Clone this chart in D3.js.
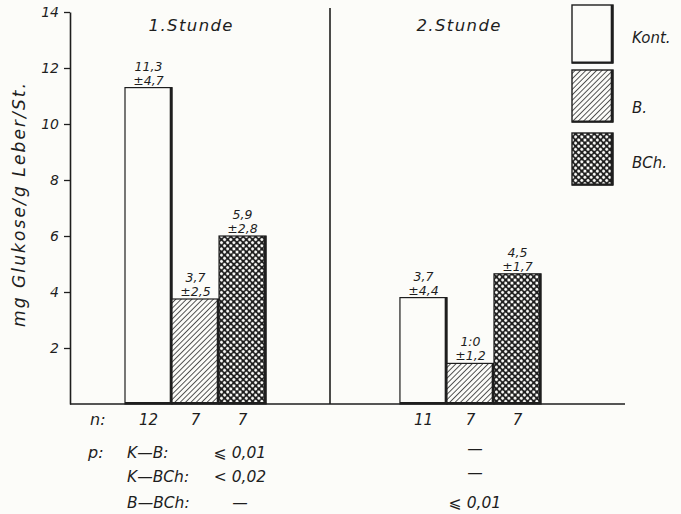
<!DOCTYPE html>
<html><head><meta charset="utf-8">
<script src="https://cdn.jsdelivr.net/npm/d3@7"></script>
<style>
body{margin:0;background:#fcfcf9;}
svg{display:block;}
text{font-family:"DejaVu Sans",sans-serif;font-style:italic;fill:#1e1e1e;}
</style></head><body>
<script>
// ---- data ----
const groups = ["1.Stunde", "2.Stunde"];
const series = ["Kont.", "B.", "BCh."];
const valuesHour1 = [11.3, 3.75, 6.0];      // bar heights as drawn
const valuesHour2 = [3.8, 1.45, 4.65];
const meanLabels1 = ["11,3", "3,7", "5,9"];
const sdLabels1 = ["±4,7", "±2,5", "±2,8"];
const meanLabels2 = ["3,7", "1:0", "4,5"];
const sdLabels2 = ["±4,4", "±1,2", "±1,7"];
const nHour1 = ["12", "7", "7"];
const nHour2 = ["11", "7", "7"];
const pComparisons = ["K—B:", "K—BCh:", "B—BCh:"];
const pHour1 = ["⩽ 0,01", "< 0,02", "—"];
const pHour2 = ["—", "—", "⩽ 0,01"];
const yTicks = [2, 4, 6, 8, 10, 12, 14];
const yLabel = "mg Glukose/g Leber/St.";

const W = 681, H = 514, ink = "#1e1e1e", paper = "#fcfcf9";
const svg = d3.select("body").append("svg").attr("width", W).attr("height", H);

// patterns
const defs = svg.append("defs");
const hatch = defs.append("pattern").attr("id", "hatch").attr("patternUnits", "userSpaceOnUse")
  .attr("width", 3.8).attr("height", 3.8).attr("patternTransform", "rotate(45)");
hatch.append("rect").attr("width", 3.8).attr("height", 3.8).attr("fill", paper);
hatch.append("line").attr("x1", 0).attr("y1", 0).attr("x2", 0).attr("y2", 3.8)
  .attr("stroke", ink).attr("stroke-width", 1.5);
const cross = defs.append("pattern").attr("id", "cross").attr("patternUnits", "userSpaceOnUse")
  .attr("width", 4.4).attr("height", 4.4).attr("patternTransform", "rotate(45)");
cross.append("rect").attr("width", 4.4).attr("height", 4.4).attr("fill", ink);
cross.append("circle").attr("cx", 2.2).attr("cy", 2.2).attr("r", 1.55).attr("fill", paper);
const fills = [paper, "url(#hatch)", "url(#cross)"];

// scales
const y = d3.scaleLinear().domain([0, 14]).range([404, 12]);
const x0 = d3.scaleBand().domain(groups).range([125, 541]).paddingInner(0.487).paddingOuter(0);
const x1 = d3.scaleBand().domain(series).range([0, x0.bandwidth()]).padding(0);

// axis
const yAxis = d3.axisLeft(y).tickValues(yTicks).tickSize(6).tickSizeOuter(0).tickFormat(d3.format("d"));
const ga = svg.append("g").attr("transform", "translate(70,0)").call(yAxis);
ga.select(".domain").attr("stroke", ink).attr("stroke-width", 1.6);
ga.selectAll(".tick line").attr("stroke", ink).attr("stroke-width", 1.3);
ga.selectAll(".tick text").attr("font-size", 14).attr("font-style", "italic")
  .attr("font-family", "DejaVu Sans").attr("fill", ink).attr("x", -11);

// y label
svg.append("text").attr("transform", "translate(25,205) rotate(-90)")
  .attr("text-anchor", "middle").attr("font-size", 17)
  .attr("textLength", 244).attr("lengthAdjust", "spacing").text(yLabel);

// baseline & divider
svg.append("line").attr("x1", 70).attr("x2", 625).attr("y1", y(0)).attr("y2", y(0))
  .attr("stroke", ink).attr("stroke-width", 1.6);
svg.append("line").attr("x1", 330).attr("x2", 330).attr("y1", 8).attr("y2", y(0))
  .attr("stroke", ink).attr("stroke-width", 1.6);

// group titles
svg.selectAll(".gtitle").data(groups).join("text").attr("class", "gtitle")
  .attr("x", (d, i) => x0(d) + x0.bandwidth() / 2 - (i ? 12 : 5)).attr("y", 31)
  .attr("text-anchor", "middle").attr("font-size", 16.5)
  .attr("textLength", 84).attr("lengthAdjust", "spacing").text(d => d);

const data = [
  {g: groups[0], vals: valuesHour1, m: meanLabels1, s: sdLabels1, n: nHour1},
  {g: groups[1], vals: valuesHour2, m: meanLabels2, s: sdLabels2, n: nHour2}
];

data.forEach(grp => {
  const g = svg.append("g").attr("transform", `translate(${x0(grp.g)},0)`);
  series.forEach((s, i) => {
    const v = grp.vals[i];
    const bx = x1(s), bw = x1.bandwidth();
    g.append("rect").attr("x", bx).attr("y", y(v)).attr("width", bw).attr("height", y(0) - y(v))
      .attr("fill", fills[i]).attr("stroke", ink).attr("stroke-width", 1.2);
    // heavy right edge
    g.append("line").attr("x1", bx + bw - 1).attr("x2", bx + bw - 1).attr("y1", y(v)).attr("y2", y(0))
      .attr("stroke", ink).attr("stroke-width", 2.6);
    g.append("line").attr("x1", bx).attr("x2", bx + bw).attr("y1", y(0) - 1).attr("y2", y(0) - 1)
      .attr("stroke", ink).attr("stroke-width", 2.2);
    const cx = bx + bw / 2;
    g.append("text").attr("x", cx).attr("y", y(v) - 17).attr("text-anchor", "middle")
      .attr("font-size", 12.5).text(grp.m[i]);
    g.append("text").attr("x", cx).attr("y", y(v) - 3).attr("text-anchor", "middle")
      .attr("font-size", 12.5).text(grp.s[i]);
    g.append("text").attr("x", cx).attr("y", 425).attr("text-anchor", "middle")
      .attr("font-size", 15).text(grp.n[i]);
  });
});

// n: and p: table
svg.append("text").attr("x", 90).attr("y", 425).attr("font-size", 16).text("n:");
svg.append("text").attr("x", 88).attr("y", 458).attr("font-size", 16).text("p:");
const rowY = [458, 482, 508];
svg.selectAll(".pcmp").data(pComparisons).join("text").attr("class", "pcmp")
  .attr("x", 127).attr("y", (d, i) => rowY[i]).attr("font-size", 15.5).text(d => d);
svg.selectAll(".p1").data(pHour1).join("text").attr("class", "p1")
  .attr("x", 240).attr("y", (d, i) => rowY[i]).attr("text-anchor", "middle").attr("font-size", 15.5).text(d => d);
svg.selectAll(".p2").data(pHour2).join("text").attr("class", "p2")
  .attr("x", 475).attr("y", (d, i) => rowY[i] - (d === "—" ? 4 : 0)).attr("text-anchor", "middle")
  .attr("font-size", 15.5).text(d => d);

// legend
const legY = [5, 70, 133], legH = [58, 52, 52], legTY = [43, 113, 168];
series.forEach((s, i) => {
  svg.append("rect").attr("x", 572).attr("y", legY[i]).attr("width", 41).attr("height", legH[i])
    .attr("fill", fills[i]).attr("stroke", ink).attr("stroke-width", 1.4);
  svg.append("line").attr("x1", 612).attr("x2", 612).attr("y1", legY[i]).attr("y2", legY[i] + legH[i])
    .attr("stroke", ink).attr("stroke-width", 2.6);
  svg.append("line").attr("x1", 572).attr("x2", 613).attr("y1", legY[i] + legH[i] - 0.5).attr("y2", legY[i] + legH[i] - 0.5)
    .attr("stroke", ink).attr("stroke-width", 2.2);
  svg.append("text").attr("x", 632).attr("y", legTY[i]).attr("font-size", 15).text(s);
});
</script>
</body></html>
